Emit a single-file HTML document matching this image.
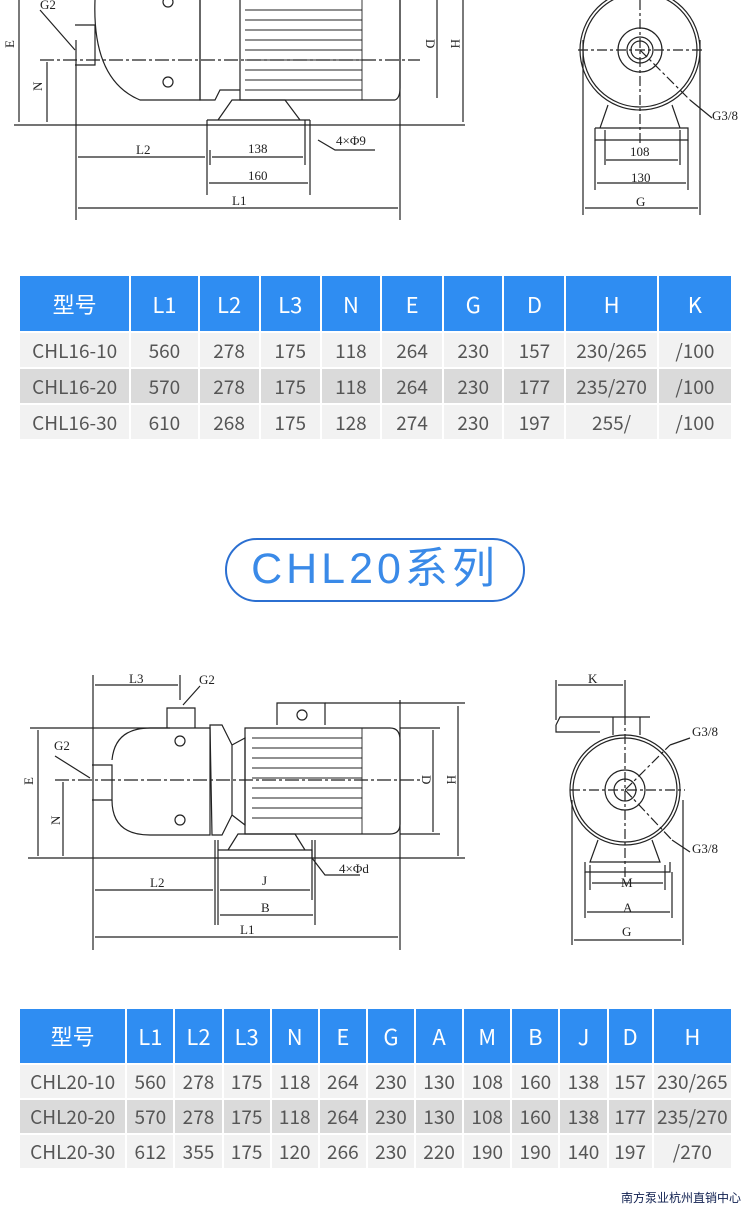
<!DOCTYPE html>
<html><head><meta charset="utf-8"><style>
*{margin:0;padding:0;box-sizing:border-box}
body{width:750px;height:1209px;background:#fff;position:relative;overflow:hidden;font-family:"Liberation Sans","Noto Sans CJK SC",sans-serif}
svg{position:absolute;left:0}
table{position:absolute;border-collapse:separate;border-spacing:2px;font-family:"Noto Sans CJK SC","Liberation Sans",sans-serif;table-layout:fixed}
td{text-align:center;color:#555;font-size:19px;padding:0;white-space:nowrap;overflow:hidden}
tr.h td{background:#2f8df2;color:#fff;font-size:22px}
tr.a td{background:#f2f2f2}
tr.b td{background:#dadada}
.pill{position:absolute;left:225px;top:538px;width:300px;height:64px;border:2px solid #2b6fd1;border-radius:32px;text-align:center;line-height:58px;font-size:43px;color:#3a8ae8;letter-spacing:4px;font-family:"Liberation Sans","Noto Sans CJK SC",sans-serif}
.wm{position:absolute;left:621px;top:1189px;font-size:12px;color:#0f1f4f;font-family:"Noto Sans CJK SC",sans-serif}
</style></head><body>

<svg width="750" height="240" style="top:0" font-family="Liberation Serif,serif" font-size="13" stroke="#222" fill="none" stroke-width="1.2">
<line x1="14" y1="125" x2="465" y2="125"/>
<line x1="76" y1="40" x2="76" y2="220"/><line x1="400" y1="0" x2="400" y2="220"/>
<line x1="207" y1="120" x2="207" y2="195"/><line x1="210" y1="150" x2="210" y2="165"/><line x1="305" y1="120" x2="305" y2="165"/><line x1="310" y1="120" x2="310" y2="195"/>
<line x1="78" y1="157" x2="205" y2="157"/><line x1="212" y1="157" x2="303" y2="157"/><line x1="209" y1="183" x2="308" y2="183"/><line x1="78" y1="208" x2="398" y2="208"/>
<path d="M95 0 Q92 80 140 100 L200 100 L200 0 M75 25 L95 25 L95 65 L75 65"/>
<path d="M200 0 L200 100 L215 100 L220 90 L240 90 L240 0 M240 0 L240 100 L395 100 Q400 98 400 88 L400 0"/>
<g stroke-width="0.9">
<line x1="245" y1="10" x2="362" y2="10"/><line x1="245" y1="20" x2="362" y2="20"/><line x1="245" y1="30" x2="362" y2="30"/><line x1="245" y1="40" x2="362" y2="40"/><line x1="245" y1="50" x2="362" y2="50"/><line x1="245" y1="60" x2="362" y2="60"/><line x1="245" y1="70" x2="362" y2="70"/><line x1="245" y1="80" x2="362" y2="80"/><line x1="245" y1="90" x2="362" y2="90"/><line x1="362" y1="0" x2="362" y2="100"/></g>
<path d="M218 120 L232 100 L285 100 L300 120 M207 120 L310 120"/>
<line x1="40" y1="60" x2="420" y2="60" stroke-dasharray="14 3 3 3"/>
<circle cx="168" cy="82" r="5"/><circle cx="168" cy="2" r="5"/>
<line x1="19" y1="0" x2="19" y2="122"/><line x1="47" y1="62" x2="47" y2="122"/><line x1="437" y1="0" x2="437" y2="98"/><line x1="463" y1="0" x2="463" y2="122"/>
<path d="M40 10 L75 50 M318 140 L335 150 L375 150"/>
<g fill="#222" stroke="none">
<text x="40" y="9">G2</text><text x="6" y="48" transform="rotate(-90 10 44)">E</text><text x="33" y="90" transform="rotate(-90 38 86)">N</text>
<text x="425" y="48" transform="rotate(90 430 44)">D</text><text x="450" y="48" transform="rotate(90 455 44)">H</text>
<text x="136" y="154">L2</text><text x="248" y="153">138</text><text x="248" y="180">160</text><text x="232" y="205">L1</text><text x="336" y="145">4×Φ9</text>
<text x="630" y="156">108</text><text x="631" y="182">130</text><text x="636" y="206">G</text><text x="712" y="120">G3/8</text></g>
<circle cx="640" cy="50" r="60"/><circle cx="640" cy="50" r="57"/><circle cx="640" cy="50" r="22"/><circle cx="640" cy="50" r="13"/><circle cx="640" cy="50" r="9"/>
<path d="M608 105 L600 128 L680 128 L672 105 M595 128 L595 140 L688 140 L688 128 L595 128"/>
<line x1="578" y1="50" x2="705" y2="50" stroke-dasharray="10 3 3 3"/><line x1="640" y1="0" x2="640" y2="145" stroke-dasharray="10 3 3 3"/>
<line x1="640" y1="50" x2="690" y2="100" stroke-dasharray="10 3 3 3"/><line x1="690" y1="100" x2="712" y2="118"/>
<line x1="583" y1="40" x2="583" y2="215"/><line x1="700" y1="40" x2="700" y2="215"/><line x1="605" y1="130" x2="605" y2="165"/><line x1="680" y1="130" x2="680" y2="165"/><line x1="595" y1="140" x2="595" y2="190"/><line x1="688" y1="140" x2="688" y2="190"/>
<line x1="606" y1="160" x2="678" y2="160"/><line x1="597" y1="183" x2="686" y2="183"/><line x1="585" y1="208" x2="698" y2="208"/>
</svg>

<table style="left:18px;top:274px;width:715px">
<colgroup><col style="width:109px"><col style="width:66px"><col style="width:59px"><col style="width:59px"><col style="width:58px"><col style="width:60px"><col style="width:58px"><col style="width:60px"><col style="width:90px"><col style="width:72px"></colgroup>
<tr class="h" style="height:55px"><td>型号</td><td>L1</td><td>L2</td><td>L3</td><td>N</td><td>E</td><td>G</td><td>D</td><td>H</td><td>K</td></tr>
<tr class="a" style="height:34px"><td>CHL16-10</td><td>560</td><td>278</td><td>175</td><td>118</td><td>264</td><td>230</td><td>157</td><td>230/265</td><td>/100</td></tr>
<tr class="b" style="height:34px"><td>CHL16-20</td><td>570</td><td>278</td><td>175</td><td>118</td><td>264</td><td>230</td><td>177</td><td>235/270</td><td>/100</td></tr>
<tr class="a" style="height:34px"><td>CHL16-30</td><td>610</td><td>268</td><td>175</td><td>128</td><td>274</td><td>230</td><td>197</td><td>255/</td><td>/100</td></tr>
</table>

<div class="pill">CHL20系列</div>

<svg width="750" height="300" style="top:660px" font-family="Liberation Serif,serif" font-size="13" stroke="#222" fill="none" stroke-width="1.2">
<g transform="translate(0,-660)">
<line x1="28" y1="858" x2="465" y2="858"/>
<line x1="93" y1="675" x2="93" y2="950"/><line x1="400" y1="700" x2="400" y2="950"/>
<line x1="215" y1="840" x2="215" y2="925"/><line x1="218" y1="840" x2="218" y2="925"/><line x1="312" y1="840" x2="312" y2="900"/><line x1="315" y1="840" x2="315" y2="925"/>
<line x1="95" y1="890" x2="213" y2="890"/><line x1="220" y1="890" x2="310" y2="890"/><line x1="220" y1="915" x2="313" y2="915"/><line x1="95" y1="937" x2="398" y2="937"/>
<line x1="95" y1="685" x2="178" y2="685"/><line x1="180" y1="675" x2="180" y2="700"/>
<path d="M167 728 L167 708 L195 708 L195 728 M92 765 L112 765 L112 800 L92 800"/>
<path d="M112 760 Q115 728 150 728 L210 728 L210 835 L150 835 Q112 835 112 800"/>
<path d="M210 725 L212 835 L222 835 L232 815 L232 745 L222 725 Z M232 745 L245 738 L245 825 L232 815"/>
<path d="M245 728 L390 728 Q400 728 400 740 L400 824 Q400 834 390 834 L245 834 Z M277 725 L277 703 L325 703 L325 725"/>
<g stroke-width="0.9"><line x1="252" y1="738" x2="362" y2="738"/><line x1="252" y1="748" x2="362" y2="748"/><line x1="252" y1="758" x2="362" y2="758"/><line x1="252" y1="768" x2="362" y2="768"/><line x1="252" y1="778" x2="362" y2="778"/><line x1="252" y1="788" x2="362" y2="788"/><line x1="252" y1="798" x2="362" y2="798"/><line x1="252" y1="808" x2="362" y2="808"/><line x1="252" y1="818" x2="362" y2="818"/><line x1="362" y1="728" x2="362" y2="834"/></g>
<path d="M228 850 L238 834 L295 834 L305 850 M218 850 L312 850 L312 858"/>
<line x1="55" y1="780" x2="420" y2="780" stroke-dasharray="14 3 3 3"/>
<circle cx="180" cy="741" r="5"/><circle cx="180" cy="820" r="5"/><circle cx="302" cy="715" r="5"/>
<line x1="38" y1="730" x2="38" y2="856"/><line x1="63" y1="782" x2="63" y2="856"/><line x1="433" y1="730" x2="433" y2="832"/><line x1="458" y1="706" x2="458" y2="856"/>
<line x1="30" y1="728" x2="170" y2="728"/><line x1="325" y1="703" x2="465" y2="703"/><line x1="400" y1="728" x2="440" y2="728"/><line x1="400" y1="834" x2="440" y2="834"/>
<path d="M55 756 L90 778 M200 686 L183 705 M312 858 L325 875 L360 875"/>
<g fill="#222" stroke="none">
<text x="54" y="750">G2</text><text x="199" y="684">G2</text><text x="129" y="683">L3</text>
<text x="24" y="784" transform="rotate(-90 29 780)">E</text><text x="51" y="824" transform="rotate(-90 56 820)">N</text>
<text x="421" y="784" transform="rotate(90 426 780)">D</text><text x="446" y="784" transform="rotate(90 451 780)">H</text>
<text x="150" y="887">L2</text><text x="262" y="885">J</text><text x="261" y="912">B</text><text x="240" y="934">L1</text><text x="339" y="873">4×Φd</text>
<text x="588" y="683">K</text><text x="692" y="736">G3/8</text><text x="692" y="853">G3/8</text>
<text x="621" y="887">M</text><text x="623" y="912">A</text><text x="622" y="936">G</text></g>
<circle cx="625" cy="790" r="55"/><circle cx="625" cy="790" r="52"/><circle cx="625" cy="790" r="20"/><circle cx="625" cy="790" r="11"/>
<path d="M613 735 L613 717 L640 717 L640 735 M556 725 L560 717 L650 717 M556 725 L556 732 L600 732"/>
<path d="M598 840 L590 862 L660 862 L652 840 M585 862 L585 872 L670 872 L670 862"/>
<line x1="570" y1="790" x2="685" y2="790" stroke-dasharray="10 3 3 3"/><line x1="625" y1="715" x2="625" y2="880" stroke-dasharray="10 3 3 3"/>
<line x1="625" y1="790" x2="670" y2="745" stroke-dasharray="10 3 3 3"/><line x1="625" y1="790" x2="672" y2="840" stroke-dasharray="10 3 3 3"/>
<line x1="670" y1="745" x2="690" y2="738"/><line x1="672" y1="840" x2="690" y2="852"/>
<line x1="556" y1="680" x2="556" y2="720"/><line x1="625" y1="680" x2="625" y2="715"/><line x1="558" y1="685" x2="623" y2="685"/>
<line x1="572" y1="800" x2="572" y2="945"/><line x1="683" y1="800" x2="683" y2="945"/><line x1="590" y1="865" x2="590" y2="890"/><line x1="665" y1="865" x2="665" y2="890"/><line x1="585" y1="872" x2="585" y2="918"/><line x1="672" y1="872" x2="672" y2="918"/>
<line x1="592" y1="883" x2="663" y2="883"/><line x1="587" y1="912" x2="670" y2="912"/><line x1="574" y1="940" x2="681" y2="940"/>
</g></svg>

<table style="left:18px;top:1007px;width:715px">
<colgroup><col style="width:105px"><col style="width:46px"><col style="width:46px"><col style="width:46px"><col style="width:46px"><col style="width:46px"><col style="width:46px"><col style="width:46px"><col style="width:46px"><col style="width:46px"><col style="width:46px"><col style="width:43px"><col style="width:77px"></colgroup>
<tr class="h" style="height:54px"><td>型号</td><td>L1</td><td>L2</td><td>L3</td><td>N</td><td>E</td><td>G</td><td>A</td><td>M</td><td>B</td><td>J</td><td>D</td><td>H</td></tr>
<tr class="a" style="height:33px"><td>CHL20-10</td><td>560</td><td>278</td><td>175</td><td>118</td><td>264</td><td>230</td><td>130</td><td>108</td><td>160</td><td>138</td><td>157</td><td>230/265</td></tr>
<tr class="b" style="height:33px"><td>CHL20-20</td><td>570</td><td>278</td><td>175</td><td>118</td><td>264</td><td>230</td><td>130</td><td>108</td><td>160</td><td>138</td><td>177</td><td>235/270</td></tr>
<tr class="a" style="height:33px"><td>CHL20-30</td><td>612</td><td>355</td><td>175</td><td>120</td><td>266</td><td>230</td><td>220</td><td>190</td><td>190</td><td>140</td><td>197</td><td>/270</td></tr>
</table>

<div class="wm">南方泵业杭州直销中心</div>
</body></html>
